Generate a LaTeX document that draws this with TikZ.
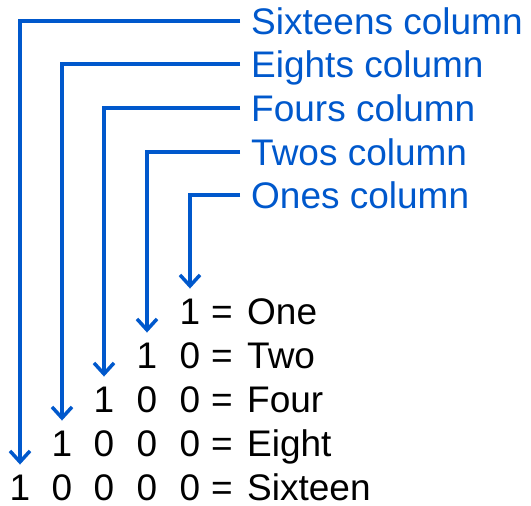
\documentclass[tikz,border=0pt]{standalone}
\usepackage{fontspec}
\setmainfont{Liberation Sans}
\usetikzlibrary{arrows.meta}
\definecolor{colblue}{RGB}{0,88,204}

\begin{document}
\begin{tikzpicture}[x=1pt, y=-1pt,
    nodes={font=\fontsize{37}{40}\selectfont, text height=26.5pt, text depth=0pt, inner ysep=0pt, inner xsep=0pt},
    colarrow/.style={draw=colblue, line width=3.5pt, -{Straight Barb[length=11pt,width=20pt]}, shorten >=9pt},
    collabel/.style={text=colblue, anchor=west, inner xsep=11pt},
    word/.style={anchor=west}]
        \useasboundingbox (0,0) rectangle (531,506);

        \node[collabel] (sixteens) at (240,21) {Sixteens column};
        \node[collabel] (eights) at (240,64) {Eights column};
        \node[collabel] (fours) at (240,108) {Fours column};
        \node[collabel] (twos) at (240,152) {Twos column};
        \node[collabel] (ones) at (240,195) {Ones column};

        \node (o1) at (190,311) {1};
        \node (eqo) at (222,311) {=};
        \node[word] (wo) at (247,311) {One};

        \node (t1) at (147,355) {1};
        \node (t2) at (190,355) {0};
        \node (eqt) at (222,355) {=};
        \node[word] (wt) at (247,355) {Two};

        \node (f1) at (104,399) {1};
        \node (f2) at (147,399) {0};
        \node (f3) at (190,399) {0};
        \node (eqf) at (222,399) {=};
        \node[word] (wf) at (247,399) {Four};

        \node (e1) at (62,443) {1};
        \node (e2) at (104,443) {0};
        \node (e3) at (147,443) {0};
        \node (e4) at (190,443) {0};
        \node (eqe) at (222,443) {=};
        \node[word] (we) at (247,443) {Eight};

        \node (s1) at (20,487) {1};
        \node (s2) at (62,487) {0};
        \node (s3) at (104,487) {0};
        \node (s4) at (147,487) {0};
        \node (s5) at (190,487) {0};
        \node (eqs) at (222,487) {=};
        \node[word] (ws) at (247,487) {Sixteen};

        \draw[colarrow] (sixteens.west) -| (s1.north);
        \draw[colarrow] (eights.west) -| (e1.north);
        \draw[colarrow] (fours.west) -| (f1.north);
        \draw[colarrow] (twos.west) -| (t1.north);
        \draw[colarrow] (ones.west) -| (o1.north);
      \end{tikzpicture}
\end{document}
